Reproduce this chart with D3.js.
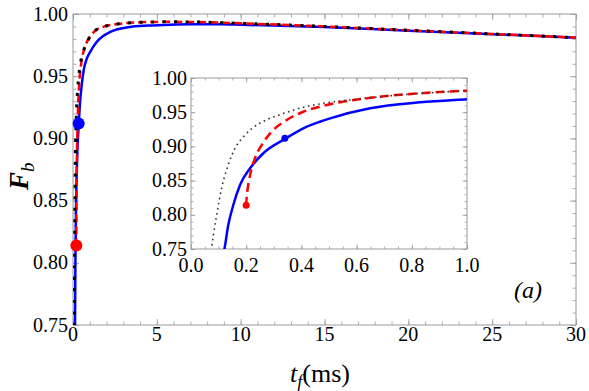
<!DOCTYPE html>
<html>
<head>
<meta charset="utf-8">
<script src="https://cdn.jsdelivr.net/npm/d3@7"></script>
</head>
<body style="margin:0">
<svg id="canvas" width="589" height="391"></svg>
<script>
// data (t in ms, fidelity F_b)
let blackT = [0.07, 0.075, 0.081, 0.093, 0.111, 0.135, 0.159, 0.19, 0.22, 0.274, 0.334, 0.395, 0.479, 0.6, 0.75, 1.0, 1.4, 1.8, 2.8, 4, 5.5, 7, 10, 15, 20, 25, 30]
let blackF = [0.74, 0.7534, 0.770, 0.800, 0.839, 0.873, 0.897, 0.914, 0.926, 0.939, 0.948, 0.956, 0.963, 0.969, 0.975, 0.9815, 0.9875, 0.9897, 0.9922, 0.9933, 0.9937, 0.9936, 0.9925, 0.990, 0.9869, 0.984, 0.981]

let redT = [0.199, 0.204, 0.214, 0.232, 0.256, 0.292, 0.347, 0.407, 0.492, 0.649, 0.83, 1.0, 1.4, 1.8, 2.8, 4, 5.5, 7, 10, 15, 20, 25, 30]
let redF = [0.813, 0.834, 0.858, 0.883, 0.902, 0.9215, 0.9386, 0.9507, 0.9605, 0.971, 0.9776, 0.9815, 0.9873, 0.9896, 0.9922, 0.9933, 0.9937, 0.9936, 0.9925, 0.990, 0.9869, 0.984, 0.981]

let blueT = [0.115, 0.121, 0.135, 0.153, 0.178, 0.214, 0.262, 0.344, 0.407, 0.467, 0.504, 0.649, 0.83, 1.0, 1.41, 2.2, 3.4, 4.5, 5.8, 7, 8.8, 10, 15, 20, 25, 30]
let blueF = [0.74, 0.75, 0.785, 0.814, 0.844, 0.868, 0.890, 0.9118, 0.9264, 0.936, 0.941, 0.9557, 0.9644, 0.969, 0.9775, 0.9855, 0.9896, 0.9907, 0.9914, 0.9917, 0.9917, 0.9914, 0.9895, 0.9866, 0.9838, 0.981]

// start points marked with dots
let markers = [
    {t: 0.2, f: 0.814, color: '#ff0000'},
    {t: 0.34, f: 0.912, color: '#0000ff'}
]

let mainXTicks = [0, 5, 10, 15, 20, 25, 30]
let mainYTicks = [0.75, 0.80, 0.85, 0.90, 0.95, 1.00]
let insetXTicks = [0.0, 0.2, 0.4, 0.6, 0.8, 1.0]
let insetYTicks = [0.75, 0.80, 0.85, 0.90, 0.95, 1.00]

let canvas = d3.select('#canvas')
let frameColor = '#9a9a9a'
let fontName = '"Times New Roman"'

let zip = (ts, fs) => ts.map((t, i) => ({t: t, f: fs[i]}))

// all text goes on one layer drawn last
let labels = []
let addText = (x, y, str, size, anchor, italic) => {
    labels.push({x: x, y: y, str: str, size: size, anchor: anchor, italic: italic})
}

let drawPanel = (opt) => {
    let x = d3.scaleLinear().domain(opt.xDomain).range([opt.left, opt.right])
    let y = d3.scaleLinear().domain(opt.yDomain).range([opt.bottom, opt.top])
    let g = canvas.append('g')

    g.append('rect')
        .attr('x', opt.left).attr('y', opt.top)
        .attr('width', opt.right - opt.left).attr('height', opt.bottom - opt.top)
        .attr('fill', '#fff')

    g.append('clipPath').attr('id', opt.id + '-clip')
        .append('rect')
        .attr('x', opt.left).attr('y', opt.top)
        .attr('width', opt.right - opt.left).attr('height', opt.bottom - opt.top)

    // inward ticks on all four sides
    let tickSet = (axisFn, scale, values, len, pos) => {
        g.append('g')
            .attr('transform', pos)
            .call(axisFn(scale).tickValues(values).tickSize(-len).tickFormat(''))
            .call(s => s.select('.domain').remove())
            .call(s => s.selectAll('line').attr('stroke', frameColor).attr('stroke-width', 0.8))
    }
    let xMinor = d3.range(opt.xDomain[0], opt.xDomain[1] + 1e-9, opt.xMinor)
    let yMinor = d3.range(opt.yDomain[0], opt.yDomain[1] + 1e-9, opt.yMinor)
    tickSet(d3.axisBottom, x, xMinor, opt.minorLen, `translate(0,${opt.bottom})`)
    tickSet(d3.axisTop, x, xMinor, opt.minorLen, `translate(0,${opt.top})`)
    tickSet(d3.axisLeft, y, yMinor, opt.minorLen, `translate(${opt.left},0)`)
    tickSet(d3.axisRight, y, yMinor, opt.minorLen, `translate(${opt.right},0)`)
    tickSet(d3.axisBottom, x, opt.xTicks, opt.majorLen, `translate(0,${opt.bottom})`)
    tickSet(d3.axisTop, x, opt.xTicks, opt.majorLen, `translate(0,${opt.top})`)
    tickSet(d3.axisLeft, y, opt.yTicks, opt.majorLen, `translate(${opt.left},0)`)
    tickSet(d3.axisRight, y, opt.yTicks, opt.majorLen, `translate(${opt.right},0)`)

    g.append('rect')
        .attr('x', opt.left).attr('y', opt.top)
        .attr('width', opt.right - opt.left).attr('height', opt.bottom - opt.top)
        .attr('fill', 'none').attr('stroke', frameColor).attr('stroke-width', 1)

    opt.xTicks.forEach(d => addText(x(d), opt.bottom + opt.xLabelDy, opt.xFormat(d), 20, 'middle', false))
    opt.yTicks.forEach(d => addText(opt.left - opt.yLabelDx, y(d) + 6.5, d3.format('.2f')(d), 20, 'end', false))

    let line = d3.line().x(d => x(d.t)).y(d => y(d.f)).curve(d3.curveMonotoneX)
    let curves = g.append('g').attr('clip-path', `url(#${opt.id}-clip)`)

    curves.append('path').datum(zip(blueT, blueF))
        .attr('d', line).attr('fill', 'none')
        .attr('stroke', '#0000ff').attr('stroke-width', opt.blueW)
    curves.append('path').datum(zip(redT, redF))
        .attr('d', line).attr('fill', 'none')
        .attr('stroke', '#ff0000').attr('stroke-width', opt.redW)
        .attr('stroke-dasharray', opt.redDash)
    curves.append('path').datum(zip(blackT, blackF))
        .attr('d', line).attr('fill', 'none')
        .attr('stroke', opt.blackColor).attr('stroke-width', opt.blackW)
        .attr('stroke-dasharray', opt.blackDash)

    g.selectAll('.mk').data(markers).enter().append('circle')
        .attr('cx', d => x(d.t)).attr('cy', d => y(d.f))
        .attr('r', opt.markR).attr('fill', d => d.color)
}

// main plot
drawPanel({
    id: 'main', left: 73, right: 576, top: 14, bottom: 325,
    xDomain: [0, 30], yDomain: [0.75, 1.0],
    xTicks: mainXTicks, yTicks: mainYTicks, xMinor: 1, yMinor: 0.01,
    majorLen: 6, minorLen: 3.5, xLabelDy: 16, yLabelDx: 5,
    xFormat: d3.format('d'),
    blueW: 2.5, redW: 2.5, redDash: '8,4',
    blackColor: '#000', blackW: 3, blackDash: '3,8.5', markR: 6
})

// inset
drawPanel({
    id: 'inset', left: 191, right: 467, top: 78, bottom: 249,
    xDomain: [0, 1], yDomain: [0.75, 1.0],
    xTicks: insetXTicks, yTicks: insetYTicks, xMinor: 0.05, yMinor: 0.01,
    majorLen: 4.5, minorLen: 2.5, xLabelDy: 23, yLabelDx: 4,
    xFormat: d3.format('.1f'),
    blueW: 2.5, redW: 2.5, redDash: '9,5',
    blackColor: '#333', blackW: 1.6, blackDash: '1.6,3.6', markR: 3.5
})

addText(514, 298, '(a)', 24, 'start', true)

canvas.selectAll('text.lbl').data(labels).enter().append('text')
    .attr('class', 'lbl')
    .attr('x', d => d.x).attr('y', d => d.y)
    .attr('font-size', d => d.size)
    .attr('text-anchor', d => d.anchor)
    .style('font-family', fontName)
    .style('font-style', d => d.italic ? 'italic' : 'normal')
    .text(d => d.str)

// axis titles
let xTitle = canvas.append('text')
    .attr('x', 290).attr('y', 382).attr('font-size', 26)
    .style('font-family', fontName)
xTitle.append('tspan').style('font-style', 'italic').text('t')
xTitle.append('tspan').style('font-style', 'italic').attr('font-size', 18).attr('dy', 6).text('f')
xTitle.append('tspan').attr('dy', -6).text('(ms)')

let yTitle = canvas.append('text')
    .attr('transform', 'translate(28,190) rotate(-90)')
    .attr('font-size', 27)
    .style('font-family', fontName)
yTitle.append('tspan').style('font-style', 'italic').style('font-weight', 'bold').text('F')
yTitle.append('tspan').style('font-style', 'italic').attr('font-size', 19).attr('dy', 6).text('b')
</script>
</body>
</html>
